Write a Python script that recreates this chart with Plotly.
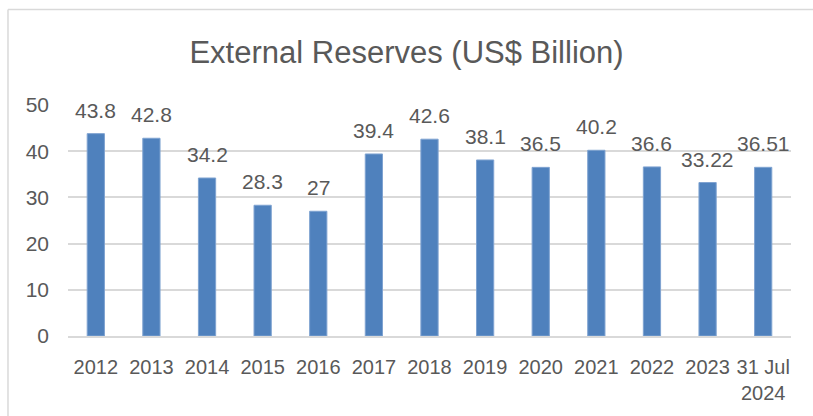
import plotly.graph_objects as go

# External reserves by year-end (last bar: 31 July 2024), US$ billion
categories = ["2012", "2013", "2014", "2015", "2016", "2017", "2018",
              "2019", "2020", "2021", "2022", "2023", "31 Jul<br>2024"]
reserves = [43.8, 42.8, 34.2, 28.3, 27, 39.4, 42.6, 38.1, 36.5, 40.2, 36.6, 33.22, 36.51]
value_labels = ["43.8", "42.8", "34.2", "28.3", "27", "39.4", "42.6",
                "38.1", "36.5", "40.2", "36.6", "33.22", "36.51"]
y_ticks = [0, 10, 20, 30, 40, 50]

FONT = "Liberation Sans Narrow, Arial Narrow, Liberation Sans, Arial, sans-serif"
TEXT = "#595959"
GRID = "#D9D9D9"
BAR = "#4F81BD"

fig = go.Figure()
fig.add_trace(go.Bar(
    x=categories,
    y=reserves,
    marker=dict(color=BAR, line=dict(color="#7FA3D1", width=1)),
    hoverinfo="x+y",
))

# value labels above each bar (x given as category index)
for i, (val, lab) in enumerate(zip(reserves, value_labels)):
    fig.add_annotation(
        x=i, y=val, text=lab, showarrow=False,
        yanchor="bottom", yshift=10,
        font=dict(family=FONT, size=21, color=TEXT),
    )

# light frame around the chart area (top and left edges)
fig.add_shape(type="line", xref="paper", yref="paper",
              x0=-0.083, x1=1.1, y0=1.413, y1=1.413,
              line=dict(color=GRID, width=1.5))
fig.add_shape(type="line", xref="paper", yref="paper",
              x0=-0.083, x1=-0.083, y0=1.413, y1=-0.4,
              line=dict(color=GRID, width=1.5))

fig.update_layout(
    width=813, height=416,
    margin=dict(l=68, r=22, t=105, b=78),
    paper_bgcolor="white",
    plot_bgcolor="white",
    bargap=0.69,
    showlegend=False,
    title=dict(
        text="External Reserves (US$ Billion)",
        x=0.5, xref="container", xanchor="center",
        y=1 - 52 / 416, yref="container", yanchor="middle",
        font=dict(family=FONT, size=31, color=TEXT),
    ),
    font=dict(family=FONT, color=TEXT),
)

fig.update_xaxes(
    type="category",
    range=[-0.5, len(categories) - 0.5],
    showgrid=False,
    showline=True, linecolor=GRID, linewidth=1.5,
    ticks="",
    tickfont=dict(family=FONT, size=20, color=TEXT),
    ticklabelstandoff=12,
    tickangle=0,
)
fig.update_yaxes(
    range=[0, 50],
    tickvals=y_ticks,
    showgrid=True, gridcolor=GRID, gridwidth=1.5,
    zeroline=False,
    showline=False,
    ticks="",
    tickfont=dict(family=FONT, size=21, color=TEXT),
    ticklabelstandoff=18,
)

fig.write_html("out.html")
